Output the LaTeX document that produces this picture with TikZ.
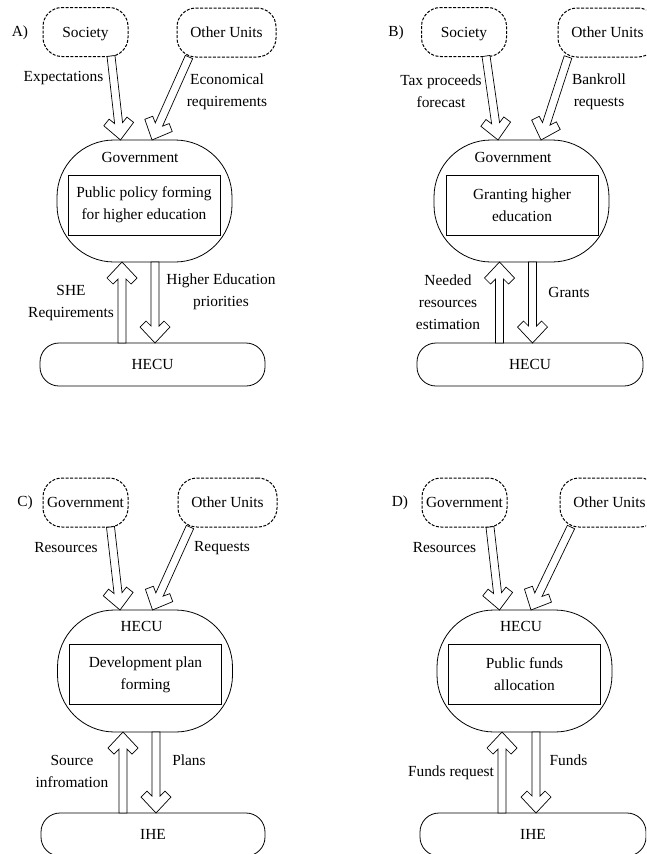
\documentclass[tikz,border=0pt]{standalone}
\usepackage{fontspec}
\setmainfont{Liberation Serif}
\usetikzlibrary{calc}
\tikzset{
  dbox/.style={draw, dash pattern=on 3pt off 1.5pt, line width=1pt, rounded corners=19pt,
    minimum width=#1, minimum height=49pt, inner sep=0pt, text depth=0pt},
  bigbox/.style={draw, line width=0.8pt, rounded corners=57pt, minimum width=175pt, minimum height=122pt, inner sep=0pt},
  inbox/.style={draw, line width=0.8pt, minimum width=152pt, minimum height=60pt, align=center, inner sep=0pt},
  endbox/.style={draw, line width=0.8pt, rounded corners=19pt, minimum width=#1, minimum height=43pt, inner sep=0pt},
  lbl/.style={align=center, inner sep=0pt},
  harrline/.style={draw, fill=white, line width=0.7pt, line join=miter}
}
\newcommand{\hollowarr}[2]{%
  \path let \p1=($(#2)-(#1)$) in
    \pgfextra{\pgfmathsetmacro\harAng{atan2(\y1,\x1)}\pgfmathsetmacro\harLen{veclen(\x1,\y1)}%
      \xdef\harAngG{\harAng}\xdef\harLenG{\harLen pt}};
  \draw[harrline,shift={(#2)},rotate=\harAngG]
    (0pt,0pt) -- (-16pt,15pt) -- (-22pt,9pt) -- (-17pt,4pt) -- (-\harLenG,4pt)
    -- (-\harLenG,-4pt) -- (-17pt,-4pt) -- (-22pt,-9pt) -- (-16pt,-15pt) -- cycle;
}
\begin{document}
\begin{tikzpicture}[x=1pt,y=-1pt,font=\fontsize{15.4}{22}\selectfont]
\clip (0,0) rectangle (646,854);
\fill[white] (0,0) rectangle (646,854);

% ---------- Panel A ----------
\node[lbl] (Alab) at (20,33) {A)};
\node[dbox=85pt] (Asoc) at (85.5,32) {Society};
\node[dbox=99pt] (Aoth) at (226.5,32.5) {Other Units};
\node[bigbox] (Agov) at (144.5,201) {};
\node[lbl] (Agovt) at (140,157) {Government};
\node[inbox] (Ain) at (144,205) {Public policy forming\\for higher education};
\node[endbox=225pt] (Ahecu) at (152.5,364.5) {HECU};
\node[lbl] (Al1) at (63.5,78) {Expectations};
\node[lbl] (Al2) at (227,91.5) {Economical\\requirements};
\node[lbl] (Al3) at (71,303) {SHE\\Requirements};
\node[lbl] (Al4) at (221,291.5) {Higher Education\\priorities};
\coordinate (a1s) at (111,56);    \coordinate (a1e) at (120.5,140);
\coordinate (a2s) at (189,57);    \coordinate (a2e) at (152,140);
\coordinate (a3s) at (122,343);   \coordinate (a3e) at (122,262);
\coordinate (a4s) at (155,262);   \coordinate (a4e) at (155,343);
\hollowarr{a1s}{a1e}
\hollowarr{a2s}{a2e}
\hollowarr{a3s}{a3e}
\hollowarr{a4s}{a4e}

% ---------- Panel B ----------
\node[lbl] (Blab) at (396,33) {B)};
\node[dbox=85pt] (Bsoc) at (464,32) {Society};
\node[dbox=99pt] (Both) at (607.5,32.5) {Other Units};
\node[bigbox] (Bgov) at (521.5,201) {};
\node[lbl] (Bgovt) at (513,157) {Government};
\node[inbox] (Bin) at (522,205) {Granting higher\\education};
\node[endbox=226pt] (Bhecu) at (530,364.5) {HECU};
\node[lbl] (Bl1) at (441,91.5) {Tax proceeds\\forecast};
\node[lbl] (Bl2) at (599,91.5) {Bankroll\\requests};
\node[lbl] (Bl3) at (448,302) {Needed\\resources\\estimation};
\node[lbl] (Bl4) at (569,292.5) {Grants};
\coordinate (b1s) at (486,56);    \coordinate (b1e) at (498,140);
\coordinate (b2s) at (568,57);    \coordinate (b2e) at (541,140);
\coordinate (b3s) at (499.5,343); \coordinate (b3e) at (499.5,262);
\coordinate (b4s) at (532.5,262); \coordinate (b4e) at (532.5,343);
\hollowarr{b1s}{b1e}
\hollowarr{b2s}{b2e}
\hollowarr{b3s}{b3e}
\hollowarr{b4s}{b4e}

% ---------- Panel C ----------
\node[lbl] (Clab) at (25,503) {C)};
\node[dbox=85pt] (Cgov) at (85.5,502.5) {Government};
\node[dbox=99pt] (Coth) at (227.5,502.5) {Other Units};
\node[bigbox] (Checu) at (145,671) {};
\node[lbl] (Checut) at (141.5,626.5) {HECU};
\node[inbox] (Cin) at (145.5,674.5) {Development plan\\forming};
\node[endbox=224pt] (Cihe) at (153,834.5) {IHE};
\node[lbl] (Cl1) at (66,548) {Resources};
\node[lbl] (Cl2) at (222,548) {Requests};
\node[lbl] (Cl3) at (72,771.5) {Source\\infromation};
\node[lbl] (Cl4) at (189,760.5) {Plans};
\coordinate (c1s) at (110.5,527); \coordinate (c1e) at (120,610);
\coordinate (c2s) at (190,527);   \coordinate (c2e) at (152.5,610);
\coordinate (c3s) at (123,813);   \coordinate (c3e) at (123,732);
\coordinate (c4s) at (156,732);   \coordinate (c4e) at (156,813);
\hollowarr{c1s}{c1e}
\hollowarr{c2s}{c2e}
\hollowarr{c3s}{c3e}
\hollowarr{c4s}{c4e}

% ---------- Panel D ----------
\node[lbl] (Dlab) at (400,503) {D)};
\node[dbox=85pt] (Dgov) at (464.5,502.5) {Government};
\node[dbox=99pt] (Doth) at (609.5,502.5) {Other Units};
\node[bigbox] (Dhecu) at (524.5,671) {};
\node[lbl] (Dhecut) at (521,626.5) {HECU};
\node[inbox] (Din) at (524.5,674.5) {Public funds\\allocation};
\node[endbox=226pt] (Dihe) at (533,834.5) {IHE};
\node[lbl] (Dl1) at (444.5,548) {Resources};
\node[lbl] (Dl3) at (451,772.5) {Funds request};
\node[lbl] (Dl4) at (568.5,760.5) {Funds};
\coordinate (d1s) at (490,527);   \coordinate (d1e) at (499.5,610);
\coordinate (d2s) at (571,527);   \coordinate (d2e) at (531,610);
\coordinate (d3s) at (502,813);   \coordinate (d3e) at (502,732);
\coordinate (d4s) at (536,732);   \coordinate (d4e) at (536,813);
\hollowarr{d1s}{d1e}
\hollowarr{d2s}{d2e}
\hollowarr{d3s}{d3e}
\hollowarr{d4s}{d4e}
\end{tikzpicture}
\end{document}
